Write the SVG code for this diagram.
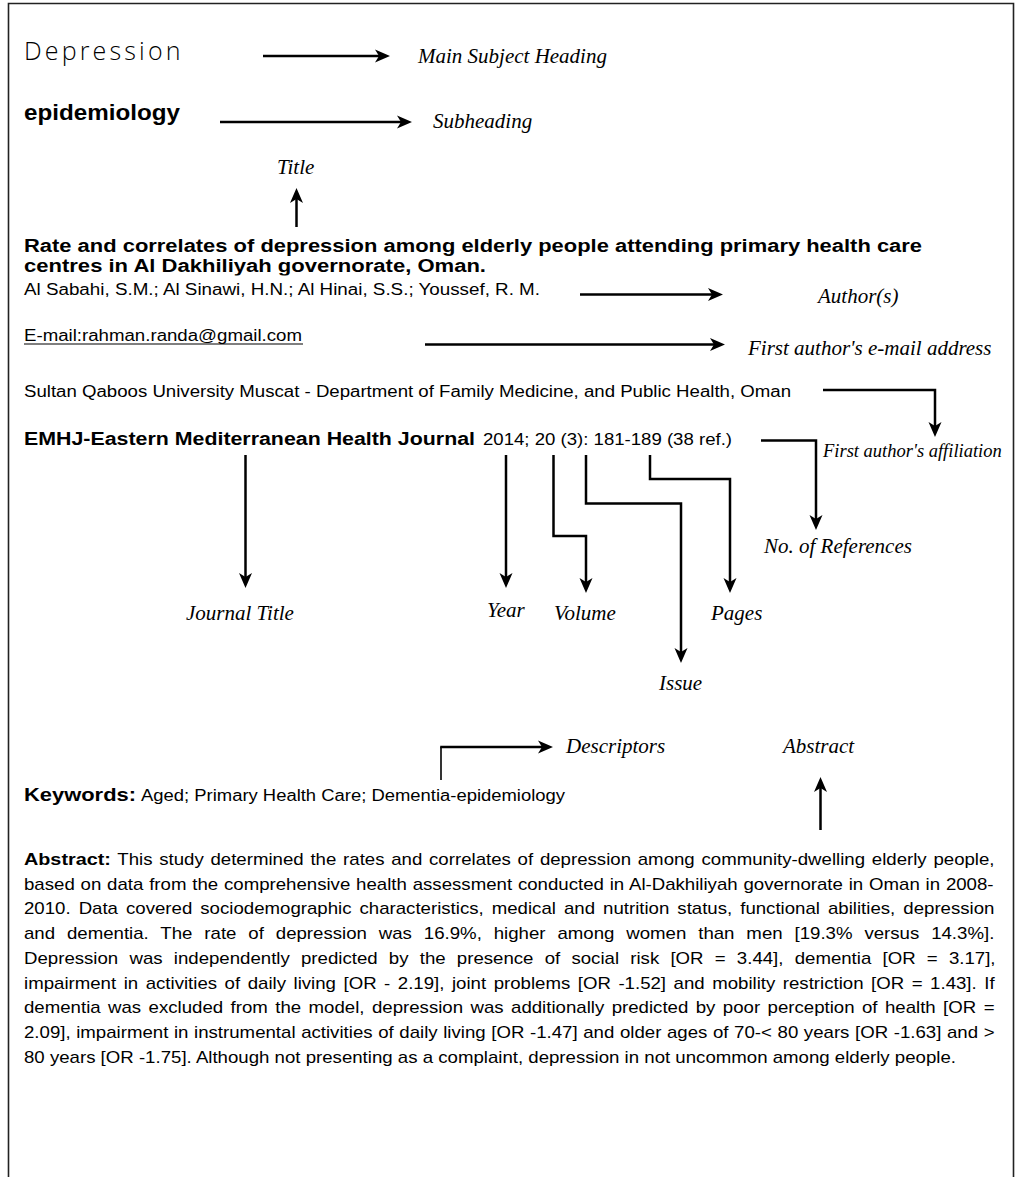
<svg xmlns="http://www.w3.org/2000/svg" width="1018" height="1177" viewBox="0 0 1018 1177">
<style>
.sans{font-family:"Liberation Sans",Arial,sans-serif;fill:#000}
.b{font-weight:bold}
.lab{font-family:"Liberation Serif","Times New Roman",serif;font-style:italic;font-size:21px;fill:#000}
.c{fill:none;stroke:#000;stroke-width:2.5;stroke-linejoin:miter}
.thin{stroke-width:1.6}
</style>
<defs>
<marker id="ah" markerUnits="userSpaceOnUse" markerWidth="16" markerHeight="14" refX="7" refY="7" orient="auto">
<path d="M0,0.5 L15,7 L0,13.5 L4,7 Z" fill="#000"/>
</marker>
<clipPath id="clipT"><rect x="0" y="0" width="1018" height="275.5"/></clipPath>
</defs>
<rect width="1018" height="1177" fill="#fff"/>
<path d="M8.5,1177 V3.5 H1013.5 V1177" fill="none" stroke="#222" stroke-width="1.6"/>

<g id="main-heading">
<text x="24" y="60" font-family="'Open Sans',sans-serif" font-weight="300" font-size="25" letter-spacing="1.5" textLength="158" lengthAdjust="spacing" fill="#000">Depression</text>
<text class="lab" x="418" y="63">Main Subject Heading</text>
</g>
<g id="subheading">
<text class="sans b" x="24" y="120" font-size="21.3" textLength="156" lengthAdjust="spacingAndGlyphs">epidemiology</text>
<text class="lab" x="433" y="128">Subheading</text>
</g>
<g id="title">
<text class="lab" x="277" y="174">Title</text>
<text class="sans b" x="24" y="252" font-size="18.67" textLength="898" lengthAdjust="spacingAndGlyphs">Rate and correlates of depression among elderly people attending primary health care</text>
<text class="sans b" x="24" y="272" font-size="18.67" textLength="462" lengthAdjust="spacingAndGlyphs" clip-path="url(#clipT)">centres in Al Dakhiliyah governorate, Oman.</text>
</g>
<g id="authors">
<text class="sans" x="24" y="295" font-size="16" textLength="516" lengthAdjust="spacingAndGlyphs">Al Sabahi, S.M.; Al Sinawi, H.N.; Al Hinai, S.S.; Youssef, R. M.</text>
<text class="lab" x="818" y="303">Author(s)</text>
</g>
<g id="email">
<text class="sans" x="24" y="341" font-size="16" textLength="278" lengthAdjust="spacingAndGlyphs">E-mail:rahman.randa@gmail.com</text>
<line x1="24" y1="344" x2="303" y2="344" stroke="#000" stroke-width="1.2"/>
<text class="lab" x="748" y="355">First author's e-mail address</text>
</g>
<g id="affiliation">
<text class="sans" x="24" y="396.5" font-size="16" textLength="767" lengthAdjust="spacingAndGlyphs">Sultan Qaboos University Muscat - Department of Family Medicine, and Public Health, Oman</text>
<text class="lab" x="823" y="457" style="font-size:18.5px">First author's affiliation</text>
</g>
<g id="journal">
<text class="sans b" x="24" y="445" font-size="18" textLength="451" lengthAdjust="spacingAndGlyphs">EMHJ-Eastern Mediterranean Health Journal</text>
<text class="sans" x="483" y="445" font-size="16" textLength="249" lengthAdjust="spacingAndGlyphs">2014; 20 (3): 181-189 (38 ref.)</text>
</g>
<g id="labels-citation">
<text class="lab" x="764" y="553">No. of References</text>
<text class="lab" x="186" y="620">Journal Title</text>
<text class="lab" x="487" y="617">Year</text>
<text class="lab" x="554" y="620">Volume</text>
<text class="lab" x="711" y="620">Pages</text>
<text class="lab" x="659" y="690">Issue</text>
</g>
<g id="descriptors">
<text class="lab" x="566" y="752.7">Descriptors</text>
<text class="sans b" x="24" y="801" font-size="18.67" textLength="112" lengthAdjust="spacingAndGlyphs">Keywords:</text>
<text class="sans" x="141" y="801" font-size="16" textLength="424" lengthAdjust="spacingAndGlyphs">Aged; Primary Health Care; Dementia-epidemiology</text>
</g>
<g id="abstract">
<text class="lab" x="783" y="752.7">Abstract</text>
<g transform="matrix(1.165 0 0 1 24 0)" class="sans" font-size="16">
<text x="0" y="865" word-spacing="1.35"><tspan class="b" font-size="17">Abstract:</tspan> This study determined the rates and correlates of depression among community-dwelling elderly people,</text>
<text x="0" y="889.75" word-spacing="0.55">based on data from the comprehensive health assessment conducted in Al-Dakhiliyah governorate in Oman in 2008-</text>
<text x="0" y="914.5" word-spacing="2.44">2010. Data covered sociodemographic characteristics, medical and nutrition status, functional abilities, depression</text>
<text x="0" y="939.25" word-spacing="5.77">and dementia. The rate of depression was 16.9%, higher among women than men [19.3% versus 14.3%].</text>
<text x="0" y="964" word-spacing="5.18">Depression was independently predicted by the presence of social risk [OR = 3.44], dementia [OR = 3.17],</text>
<text x="0" y="988.75" word-spacing="2.01">impairment in activities of daily living [OR - 2.19], joint problems [OR -1.52] and mobility restriction [OR = 1.43]. If</text>
<text x="0" y="1013.5" word-spacing="1.93">dementia was excluded from the model, depression was additionally predicted by poor perception of health [OR =</text>
<text x="0" y="1038.25" word-spacing="0.37">2.09], impairment in instrumental activities of daily living [OR -1.47] and older ages of 70-&lt; 80 years [OR -1.63] and &gt;</text>
<text x="0" y="1063">80 years [OR -1.75]. Although not presenting as a complaint, depression in not uncommon among elderly people.</text>
</g>
</g>

<g id="connectors">
<path class="c" d="M263,56 H382" marker-end="url(#ah)"/>
<path class="c" d="M220,122 H404" marker-end="url(#ah)"/>
<path class="c" d="M296.5,227 V196" marker-end="url(#ah)"/>
<path class="c" d="M580,294.5 H715" marker-end="url(#ah)"/>
<path class="c" d="M425,344.5 H717" marker-end="url(#ah)"/>
<path class="c" d="M823,390 H935 V429" marker-end="url(#ah)"/>
<path class="c" d="M761,440.5 H816 V522" marker-end="url(#ah)"/>
<path class="c" d="M650,455 V479 H730 V585" marker-end="url(#ah)"/>
<path class="c" d="M586,455 V503.5 H681 V655" marker-end="url(#ah)"/>
<path class="c" d="M553.5,455 V536 H586 V585" marker-end="url(#ah)"/>
<path class="c" d="M506,455 V580" marker-end="url(#ah)"/>
<path class="c" d="M245.5,455 V580" marker-end="url(#ah)"/>
<path class="c thin" d="M441,780 V747"/>
<path class="c" d="M440.2,747 H545" marker-end="url(#ah)"/>
<path class="c" d="M820.5,830 V785" marker-end="url(#ah)"/>
</g>
</svg>
